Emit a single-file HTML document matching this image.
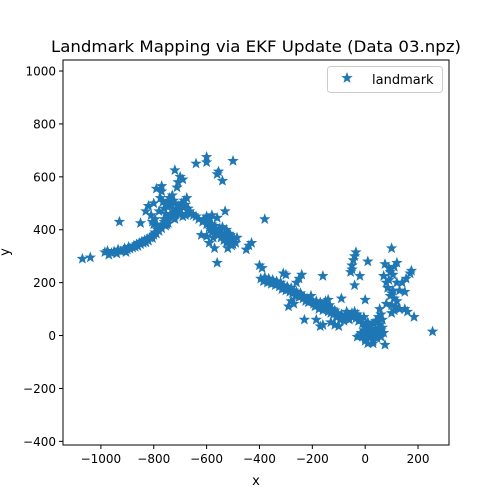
<!DOCTYPE html>
<html><head><meta charset="utf-8"><style>body{margin:0;background:#fff}svg{display:block;font-family:"DejaVu Sans","Liberation Sans",sans-serif}</style></head>
<body>
<svg id="chart" width="500" height="500" viewBox="0 0 500 500" xmlns="http://www.w3.org/2000/svg">
<rect width="500" height="500" fill="#fff"/>
<text x="256" y="52" text-anchor="middle" font-size="16" textLength="410" lengthAdjust="spacingAndGlyphs">Landmark Mapping via EKF Update (Data 03.npz)</text>
<g id="marks"></g>
<g id="axes"></g>
<rect x="63" y="60" width="386" height="385" fill="none" stroke="#000" stroke-width="1"/>
<text x="256" y="485" text-anchor="middle" font-size="13">x</text>
<text x="9" y="252" text-anchor="middle" font-size="13" transform="rotate(-90 9 252)">y</text>
<g>
<rect x="327.5" y="66.5" width="115" height="26" rx="3" fill="#fff" fill-opacity="0.8" stroke="#ccc"/>
<path id="legstar" fill="#1f77b4" stroke="#1f77b4" stroke-width="0.6"/>
<text x="372" y="84" font-size="13">landmark</text>
</g>
</svg>
<script>
const xTicks=[-1000,-800,-600,-400,-200,0,200];
const yTicks=[-400,-200,0,200,400,600,800,1000];
const px=[-1070,-1040,-985,-975,-970,-960,-950,-940,-935,-930,-925,-915,-910,-905,-900,-895,-890,-880,-875,-870,-865,-860,-855,-850,-845,-840,-835,-830,-825,-820,-815,-810,-805,-800,-795,-790,-785,-780,-775,-770,-765,-760,-755,-750,-745,-740,-735,-730,-725,-720,-715,-710,-705,-700,-695,-690,-685,-680,-675,-670,-665,-660,
-830,-820,-810,-800,-795,-790,-780,-775,-770,-765,-760,-755,-750,-745,-740,-735,-730,-725,-720,-712,-708,-720,-700,-690,-770,-790,-740,-750,-800,-805,-760,-720,-700,-690,-680,-650,-640,-630,-615,
-600,-600,-560,-555,-640,-540,-500,-850,-600,-590,
-610,-600,-595,-590,-585,-580,-575,-570,-565,-560,-555,-550,-545,-540,-535,-530,-525,-520,-515,-510,-505,-500,-495,-490,-485,-580,-560,-530,-600,-590,-570,-560,-620,-520,-450,-440,-430,-580,-575,-550,-540,-525,-515,-505,
-380,-400,-390,
-395,-385,-380,-375,-370,-365,-360,-355,-350,-345,-340,-335,-330,-325,-320,-315,-310,-305,-300,-295,-290,-285,-280,-275,-270,-265,-260,-255,-250,-245,-240,-235,-230,-225,-220,-215,-210,-205,-200,-310,-300,-260,-250,-240,-160,-230,-290,-280,-270,
-195,-190,-185,-180,-175,-170,-165,-160,-150,-145,-140,-135,-130,-125,-120,-115,-110,-105,-100,-95,-90,-85,-80,-75,-70,-65,-60,-55,-50,-45,-40,-35,-30,-25,-20,-15,-10,-5,-150,-140,-90,-100,-115,-130,-185,-170,-160,
0,5,10,15,20,25,30,35,40,45,50,55,60,65,60,55,50,45,40,65,70,30,20,10,-5,-15,-20,-30,-10,0,10,75,30,60,
-50,-45,-40,-35,-20,-40,-55,-50,0,10,70,80,90,85,100,95,105,110,120,115,130,110,100,140,155,170,175,150,150,160,185,255,100,110,120,75,90,95,105,80,130,120,115,0,100];
const py=[290,295,315,320,305,312,318,310,325,430,318,322,330,315,325,335,328,332,340,335,345,338,350,345,355,350,360,352,365,358,370,375,368,380,390,385,400,395,410,405,420,430,415,440,425,450,460,445,470,455,480,465,490,475,500,485,510,495,520,480,470,460,
470,490,455,500,440,420,470,520,545,505,480,460,490,510,520,495,530,510,500,560,580,625,600,590,565,555,490,420,420,430,440,440,460,450,455,455,450,440,430,
675,655,610,620,650,585,660,425,450,440,
440,420,430,410,400,420,395,415,400,390,380,395,370,385,360,375,350,365,370,380,360,345,365,350,370,455,445,470,375,350,330,275,380,330,325,340,350,390,370,405,410,400,385,340,
440,265,255,
215,205,220,210,200,215,205,195,210,200,190,205,195,185,200,175,190,180,170,185,175,165,180,160,170,150,165,155,145,160,150,140,145,130,140,125,135,150,130,235,230,200,215,230,225,60,110,130,120,
120,110,130,115,100,125,110,95,110,100,90,115,85,100,80,95,70,85,75,60,80,65,55,70,90,80,60,75,85,70,90,65,80,55,70,60,45,70,130,135,140,35,40,50,60,35,40,
30,10,0,20,-5,15,-20,5,25,-10,10,40,20,60,80,100,70,50,55,30,10,45,35,50,20,10,0,-5,-5,-20,-30,-35,-30,-5,
265,285,300,315,225,190,240,250,135,280,225,200,210,180,160,150,170,140,130,110,100,95,85,200,215,235,245,165,100,90,70,15,330,260,275,270,255,240,230,120,170,200,110,-10,115];
const X0=63,X1=449,Y0=60,Y1=445,XMIN=-1143.4,XMAX=317.2,YMIN=-413.8,YMAX=1041.7;
function sx(v){return X0+(v-XMIN)/(XMAX-XMIN)*(X1-X0);}
function sy(v){return Y1-(v-YMIN)/(YMAX-YMIN)*(Y1-Y0);}
function star(cx,cy,r){let d='';for(let i=0;i<10;i++){const a=-Math.PI/2+i*Math.PI/5;const rr=i%2?r*0.42:r;d+=(i?'L':'M')+(cx+rr*Math.cos(a)).toFixed(2)+' '+(cy+rr*Math.sin(a)).toFixed(2);}return d+'Z';}
const NS='http://www.w3.org/2000/svg';
const marks=document.getElementById('marks');
for(let i=0;i<px.length;i++){
 const p=document.createElementNS(NS,'path');
 p.setAttribute('d',star(sx(px[i]),sy(py[i]),5.1));
 p.setAttribute('fill','#1f77b4');
 p.setAttribute('stroke','#1f77b4');
 p.setAttribute('stroke-width','0.6');
 
 
 marks.appendChild(p);
}
document.getElementById('legstar').setAttribute('d',star(347,78,5.1));
const axes=document.getElementById('axes');
xTicks.forEach(t=>{
 const x=sx(t);
 const l=document.createElementNS(NS,'line');
 l.setAttribute('x1',x);l.setAttribute('x2',x);l.setAttribute('y1',Y1);l.setAttribute('y2',Y1+4);l.setAttribute('stroke','#000');
 
 
 axes.appendChild(l);
 const tx=document.createElementNS(NS,'text');
 tx.setAttribute('x',x);tx.setAttribute('y',Y1+18);tx.setAttribute('text-anchor','middle');tx.setAttribute('font-size','12');
 tx.textContent=t<0?'\u2212'+(-t):String(t);
 
 
 axes.appendChild(tx);
});
yTicks.forEach(t=>{
 const y=sy(t);
 const l=document.createElementNS(NS,'line');
 l.setAttribute('x1',X0-4);l.setAttribute('x2',X0);l.setAttribute('y1',y);l.setAttribute('y2',y);l.setAttribute('stroke','#000');
 
 
 axes.appendChild(l);
 const tx=document.createElementNS(NS,'text');
 tx.setAttribute('x',X0-7);tx.setAttribute('y',y+4.5);tx.setAttribute('text-anchor','end');tx.setAttribute('font-size','12');
 tx.textContent=t<0?'\u2212'+(-t):String(t);
 
 
 axes.appendChild(tx);
});
</script>
</body></html>
